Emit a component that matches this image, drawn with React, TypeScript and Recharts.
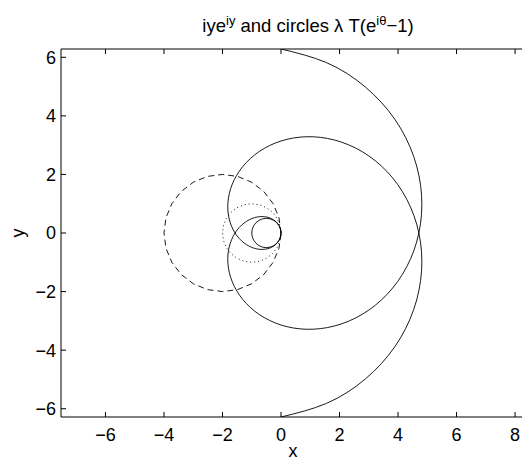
import React from 'react';
import { ComposedChart, Line, XAxis, YAxis, Label } from 'recharts';

// i·y·e^{iy} traced from y = −2π to 2π in steps of π/12, as (x, y) pairs
const spiralPoints: [number, number][] = [
  [0, -6.2832], [1.5585, -5.8162], [2.8798, -4.988], [3.8875, -3.8875],
  [4.5345, -2.618], [4.8047, -1.2874], [4.7124, 0], [4.299, 1.1519],
  [3.6276, 2.0944], [2.7768, 2.7768], [1.8326, 3.1742], [0.8809, 3.2874],
  [0, 3.1416], [-0.7454, 2.7817], [-1.309, 2.2673], [-1.6661, 1.6661],
  [-1.8138, 1.0472], [-1.7702, 0.4743], [-1.5708, 0], [-1.2644, -0.3388],
  [-0.9069, -0.5236], [-0.5554, -0.5554], [-0.2618, -0.4535], [-0.0678, -0.2529],
  [0, 0],
  [-0.0678, 0.2529], [-0.2618, 0.4535], [-0.5554, 0.5554], [-0.9069, 0.5236],
  [-1.2644, 0.3388], [-1.5708, 0], [-1.7702, -0.4743], [-1.8138, -1.0472],
  [-1.6661, -1.6661], [-1.309, -2.2673], [-0.7454, -2.7817], [0, -3.1416],
  [0.8809, -3.2874], [1.8326, -3.1742], [2.7768, -2.7768], [3.6276, -2.0944],
  [4.299, -1.1519], [4.7124, 0], [4.8047, 1.2874], [4.5345, 2.618],
  [3.8875, 3.8875], [2.8798, 4.988], [1.5585, 5.8162], [0, 6.2832],
];

// circle λT(e^{iθ}−1) with λT = 2 (dashed)
const circleT2: [number, number][] = [
  [0, 0], [-0.0681, 0.5176], [-0.268, 1], [-0.5858, 1.4142], [-1, 1.7321],
  [-1.4824, 1.9319], [-2, 2], [-2.5176, 1.9319], [-3, 1.7321], [-3.4142, 1.4142],
  [-3.7321, 1], [-3.9319, 0.5176], [-4, 0], [-3.9319, -0.5176], [-3.7321, -1],
  [-3.4142, -1.4142], [-3, -1.7321], [-2.5176, -1.9319], [-2, -2], [-1.4824, -1.9319],
  [-1, -1.7321], [-0.5858, -1.4142], [-0.268, -1], [-0.0681, -0.5176], [0, 0],
];

// circle with λT = 1 (dotted)
const circleT1: [number, number][] = [
  [0, 0], [-0.0341, 0.2588], [-0.134, 0.5], [-0.2929, 0.7071], [-0.5, 0.866],
  [-0.7412, 0.9659], [-1, 1], [-1.2588, 0.9659], [-1.5, 0.866], [-1.7071, 0.7071],
  [-1.866, 0.5], [-1.9659, 0.2588], [-2, 0], [-1.9659, -0.2588], [-1.866, -0.5],
  [-1.7071, -0.7071], [-1.5, -0.866], [-1.2588, -0.9659], [-1, -1], [-0.7412, -0.9659],
  [-0.5, -0.866], [-0.2929, -0.7071], [-0.134, -0.5], [-0.0341, -0.2588], [0, 0],
];

// circle with λT = 0.5 (solid)
const circleTHalf: [number, number][] = [
  [0, 0], [-0.017, 0.1294], [-0.067, 0.25], [-0.1464, 0.3536], [-0.25, 0.433],
  [-0.3706, 0.483], [-0.5, 0.5], [-0.6294, 0.483], [-0.75, 0.433], [-0.8536, 0.3536],
  [-0.933, 0.25], [-0.983, 0.1294], [-1, 0], [-0.983, -0.1294], [-0.933, -0.25],
  [-0.8536, -0.3536], [-0.75, -0.433], [-0.6294, -0.483], [-0.5, -0.5], [-0.3706, -0.483],
  [-0.25, -0.433], [-0.1464, -0.3536], [-0.067, -0.25], [-0.017, -0.1294], [0, 0],
];

const xTicks = [-6, -4, -2, 0, 2, 4, 6, 8];
const yTicks = [-6, -4, -2, 0, 2, 4, 6];
const xDomain: [number, number] = [-7.52, 8.34];
const yDomain: [number, number] = [-6.2832, 6.2832];

const toRows = (pts: [number, number][]) => pts.map(([x, y]) => ({ x, y }));

const FONT = '"Liberation Sans", Arial, Helvetica, sans-serif';
const INK = '#000';

const fmt = (v: number) => (v < 0 ? '\u2212' + Math.abs(v) : String(v));

const tickStyle = { fill: INK, fontSize: 18, fontFamily: FONT };

// top frame carries tick marks only
const NoTickText = () => <g />;

const TitleContent = (props: any) => {
  const vb = props.viewBox || {};
  const cx = vb.x + vb.width / 2 + 15;
  return (
    <text x={cx} y={vb.y - 16} textAnchor="middle" fontFamily={FONT} fontSize={18.5} fill={INK}>
      iye
      <tspan fontSize={13} dy={-7}>iy</tspan>
      <tspan dy={7}> and circles λ T(e</tspan>
      <tspan fontSize={13} dy={-7}>iθ</tspan>
      <tspan dy={7}>{'\u22121)'}</tspan>
    </text>
  );
};

const YLabelContent = (props: any) => {
  const vb = props.viewBox || {};
  const lx = vb.x + 24;
  const ly = vb.y + vb.height / 2;
  return (
    <text
      x={lx}
      y={ly}
      transform={`rotate(-90 ${lx} ${ly})`}
      textAnchor="middle"
      fontFamily={FONT}
      fontSize={18}
      fill={INK}
    >
      y
    </text>
  );
};

export default function App() {
  return (
    <div style={{ position: 'absolute', left: 0, top: 0, width: 522, height: 460, overflow: 'hidden', background: '#fff' }}>
      <ComposedChart width={530} height={460} margin={{ top: 48, right: 5, bottom: 0, left: 0 }}>
        <XAxis
          xAxisId="b"
          type="number"
          dataKey="x"
          domain={xDomain}
          allowDataOverflow
          ticks={xTicks}
          tickFormatter={fmt}
          interval={0}
          height={43}
          tickSize={-5}
          tickMargin={16}
          axisLine={{ stroke: INK, strokeWidth: 1 }}
          tickLine={{ stroke: INK, strokeWidth: 1 }}
          tick={tickStyle}
        >
          <Label value="x" position="insideBottom" offset={3} fill={INK} fontSize={18} fontFamily={FONT} />
        </XAxis>
        <XAxis
          xAxisId="t"
          orientation="top"
          type="number"
          dataKey="x"
          domain={xDomain}
          allowDataOverflow
          ticks={xTicks}
          interval={0}
          height={1}
          tickSize={-5}
          tick={<NoTickText />}
          axisLine={{ stroke: INK, strokeWidth: 1 }}
          tickLine={{ stroke: INK, strokeWidth: 1 }}
        >
          <Label content={<TitleContent />} />
        </XAxis>
        <YAxis
          yAxisId="l"
          type="number"
          dataKey="y"
          domain={yDomain}
          allowDataOverflow
          ticks={yTicks}
          tickFormatter={fmt}
          interval={0}
          width={61}
          tickSize={-5}
          tickMargin={10}
          axisLine={{ stroke: INK, strokeWidth: 1 }}
          tickLine={{ stroke: INK, strokeWidth: 1 }}
          tick={tickStyle}
        >
          <Label content={<YLabelContent />} />
        </YAxis>

        <Line
          xAxisId="b"
          yAxisId="l"
          data={toRows(circleT2)}
          dataKey="y"
          type="linear"
          stroke={INK}
          strokeWidth={0.9}
          strokeDasharray="6 4"
          dot={false}
          activeDot={false}
          isAnimationActive={false}
        />
        <Line
          xAxisId="b"
          yAxisId="l"
          data={toRows(circleT1)}
          dataKey="y"
          type="linear"
          stroke={INK}
          strokeWidth={0.9}
          strokeDasharray="1 3"
          dot={false}
          activeDot={false}
          isAnimationActive={false}
        />
        <Line
          xAxisId="b"
          yAxisId="l"
          data={toRows(circleTHalf)}
          dataKey="y"
          type="linear"
          stroke={INK}
          strokeWidth={0.9}
          dot={false}
          activeDot={false}
          isAnimationActive={false}
        />
        <Line
          xAxisId="b"
          yAxisId="l"
          data={toRows(spiralPoints)}
          dataKey="y"
          type="natural"
          stroke={INK}
          strokeWidth={0.9}
          dot={false}
          activeDot={false}
          isAnimationActive={false}
        />
      </ComposedChart>
    </div>
  );
}
